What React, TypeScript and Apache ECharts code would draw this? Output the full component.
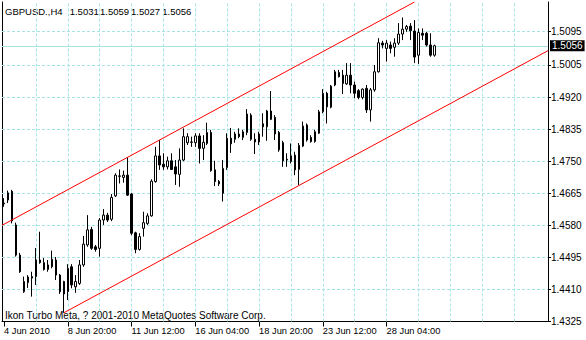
import React, { useEffect, useRef } from "react";
import * as echarts from "echarts";

const FONT = "'Liberation Sans', Arial, sans-serif";

const headerParts = ["GBPUSD.,H4", "1.5031", "1.5059", "1.5027", "1.5056"];
const headerPartLeft = [5, 69.7, 100, 131, 162.3];
const footerText = "Ikon Turbo Meta, ? 2001-2010 MetaQuotes Software Corp.";

// H4 bars: [open, close, low, high]
const candles: number[][] = [
  [1.4639, 1.4637, 1.4629, 1.4652],
  [1.4647, 1.4666, 1.4639, 1.4672],
  [1.467, 1.4592, 1.4585, 1.4674],
  [1.4581, 1.4501, 1.4497, 1.4587],
  [1.4501, 1.4457, 1.4454, 1.4507],
  [1.4404, 1.4431, 1.4401, 1.4444],
  [1.4428, 1.4443, 1.4414, 1.4448],
  [1.4444, 1.444, 1.4391, 1.4457],
  [1.4444, 1.4488, 1.4422, 1.452],
  [1.4488, 1.4481, 1.4478, 1.4563],
  [1.4481, 1.4463, 1.446, 1.4493],
  [1.4463, 1.4475, 1.4457, 1.4488],
  [1.447, 1.449, 1.4466, 1.4513],
  [1.4488, 1.4448, 1.4435, 1.4496],
  [1.4448, 1.4404, 1.4398, 1.4451],
  [1.4431, 1.4398, 1.4348, 1.4433],
  [1.4404, 1.4466, 1.4382, 1.4477],
  [1.447, 1.4422, 1.4413, 1.4477],
  [1.4417, 1.4431, 1.4401, 1.4448],
  [1.4426, 1.4475, 1.4422, 1.4488],
  [1.4475, 1.453, 1.447, 1.4552],
  [1.4528, 1.4568, 1.4523, 1.4607],
  [1.4569, 1.4519, 1.4515, 1.4576],
  [1.4523, 1.4516, 1.451, 1.4528],
  [1.4519, 1.4594, 1.4497, 1.4599],
  [1.4594, 1.4607, 1.4581, 1.4623],
  [1.4607, 1.4594, 1.4589, 1.4613],
  [1.4596, 1.4654, 1.4591, 1.4663],
  [1.4658, 1.4713, 1.4655, 1.4718],
  [1.4711, 1.471, 1.4691, 1.4728],
  [1.4707, 1.4713, 1.4693, 1.4725],
  [1.4713, 1.466, 1.4658, 1.4761],
  [1.4663, 1.4559, 1.4554, 1.4666],
  [1.456, 1.4516, 1.4506, 1.4563],
  [1.4516, 1.455, 1.4513, 1.4559],
  [1.4572, 1.4587, 1.455, 1.4616],
  [1.4585, 1.4605, 1.4581, 1.4612],
  [1.4605, 1.4697, 1.4603, 1.4702],
  [1.4696, 1.4764, 1.4693, 1.4788],
  [1.4764, 1.474, 1.4727, 1.4806],
  [1.4742, 1.4735, 1.4727, 1.4771],
  [1.4735, 1.4751, 1.4728, 1.4762],
  [1.4751, 1.4728, 1.4727, 1.4771],
  [1.4735, 1.4716, 1.4687, 1.4753],
  [1.4715, 1.4753, 1.4682, 1.4784],
  [1.4753, 1.4815, 1.475, 1.4837],
  [1.4799, 1.4815, 1.4793, 1.4824],
  [1.4801, 1.48, 1.4788, 1.4815],
  [1.4799, 1.4817, 1.4788, 1.4824],
  [1.4817, 1.4784, 1.4744, 1.4824],
  [1.4784, 1.48, 1.4753, 1.4819],
  [1.4797, 1.4826, 1.4793, 1.4852],
  [1.4826, 1.4725, 1.4722, 1.4833],
  [1.4727, 1.4696, 1.4684, 1.4751],
  [1.4696, 1.469, 1.4684, 1.47],
  [1.4665, 1.4731, 1.4643, 1.4753],
  [1.4733, 1.4811, 1.4727, 1.4824],
  [1.4811, 1.4796, 1.4772, 1.4838],
  [1.4808, 1.4822, 1.4799, 1.4828],
  [1.4822, 1.4815, 1.4811, 1.4837],
  [1.4813, 1.4828, 1.4806, 1.4833],
  [1.4826, 1.4875, 1.4819, 1.4888],
  [1.4872, 1.4808, 1.4804, 1.4877],
  [1.4808, 1.4801, 1.4769, 1.4824],
  [1.4801, 1.4822, 1.4793, 1.4828],
  [1.4849, 1.4841, 1.4815, 1.4877],
  [1.4841, 1.4883, 1.4804, 1.4886],
  [1.4883, 1.4861, 1.4859, 1.4936],
  [1.4866, 1.4822, 1.4806, 1.4872],
  [1.4826, 1.478, 1.4775, 1.483],
  [1.4799, 1.4751, 1.4735, 1.4804],
  [1.4755, 1.4753, 1.4735, 1.4771],
  [1.4749, 1.4764, 1.4744, 1.4797],
  [1.4766, 1.4727, 1.4713, 1.4775],
  [1.4728, 1.4792, 1.4687, 1.4798],
  [1.479, 1.4843, 1.4788, 1.4855],
  [1.4846, 1.4806, 1.4802, 1.485],
  [1.4813, 1.4802, 1.4799, 1.4819],
  [1.4802, 1.4828, 1.4799, 1.4833],
  [1.4824, 1.4881, 1.4822, 1.4886],
  [1.4881, 1.493, 1.4877, 1.4941],
  [1.493, 1.4894, 1.485, 1.4934],
  [1.4893, 1.4949, 1.489, 1.4952],
  [1.4952, 1.4987, 1.4949, 1.4992],
  [1.4985, 1.4974, 1.4972, 1.4992],
  [1.4978, 1.4956, 1.4928, 1.4992],
  [1.4955, 1.4978, 1.4952, 1.501],
  [1.4978, 1.4952, 1.493, 1.501],
  [1.4952, 1.493, 1.4917, 1.4961],
  [1.4937, 1.4919, 1.4914, 1.4941],
  [1.4919, 1.4941, 1.4914, 1.4943],
  [1.4943, 1.4886, 1.4878, 1.4952],
  [1.4886, 1.4939, 1.4855, 1.4944],
  [1.4939, 1.4987, 1.4934, 1.5005],
  [1.4987, 1.5064, 1.4985, 1.5076],
  [1.5063, 1.5058, 1.5049, 1.5069],
  [1.5049, 1.5063, 1.5014, 1.5071],
  [1.5058, 1.5049, 1.5036, 1.5067],
  [1.5052, 1.5063, 1.5027, 1.5076],
  [1.5063, 1.5087, 1.5058, 1.5116],
  [1.5087, 1.51, 1.5071, 1.5131],
  [1.51, 1.5107, 1.5093, 1.5111],
  [1.5108, 1.5096, 1.5071, 1.5116],
  [1.5095, 1.5026, 1.501, 1.5124],
  [1.5031, 1.5091, 1.5008, 1.5102],
  [1.5089, 1.5084, 1.5071, 1.5102],
  [1.5089, 1.5058, 1.5054, 1.5093],
  [1.5058, 1.5031, 1.5027, 1.5089],
  [1.5031, 1.5056, 1.5027, 1.5059],
];

const xTickLabels = [
  "4 Jun 2010",
  "8 Jun 20:00",
  "11 Jun 12:00",
  "16 Jun 04:00",
  "18 Jun 20:00",
  "23 Jun 12:00",
  "28 Jun 04:00",
];
const barsPerLabel = 16;
const barsPerGridLine = 8;
const slotCount = 137;

const yTickValues = [1.4325, 1.441, 1.4495, 1.458, 1.4665, 1.475, 1.4835, 1.492, 1.5005, 1.5095];
const yMin = 1.4325;
const yMax = 1.5172;
const bidPrice = 1.5056;

// channel lines: [bar position, price]
const upperChannel = [
  [-0.5, 1.458],
  [103.0, 1.5172],
];
const lowerChannel = [
  [15, 1.4348],
  [136.5, 1.5043],
];

const GRID_COLOR = "#a9e4e4";

export default function App() {
  const ref = useRef<HTMLDivElement>(null);

  useEffect(() => {
    if (!ref.current) return;
    const chart = echarts.init(ref.current, undefined, { renderer: "svg" });

    const slots = Array.from({ length: slotCount }, (_, i) => String(i));
    const showLabel = (idx: number) =>
      idx % barsPerLabel === 0 && idx / barsPerLabel < xTickLabels.length;

    const verticalGrid: any[] = [];
    for (let i = barsPerGridLine; i < slotCount - barsPerGridLine; i += barsPerGridLine) {
      verticalGrid.push({ xAxis: i });
    }
    const horizontalGrid = yTickValues.slice(1).map((v) => ({ yAxis: v }));

    const headerGraphics = headerParts.map((t, i) => ({
      type: "text",
      left: headerPartLeft[i],
      top: 6,
      silent: true,
      style: { text: t, font: `9.5px ${FONT}`, fill: "#000" },
    }));

    const option: any = {
      animation: false,
      backgroundColor: "#ffffff",
      textStyle: { fontFamily: FONT },
      grid: { left: 2, top: 2, width: 546, height: 319.5, containLabel: false },
      xAxis: [
        {
          type: "category",
          data: slots,
          boundaryGap: true,
          axisLine: { show: true, onZero: false, lineStyle: { color: "#000", width: 1 } },
          axisTick: {
            show: true,
            alignWithLabel: true,
            length: 5,
            interval: showLabel,
            lineStyle: { color: "#000" },
          },
          axisLabel: {
            show: true,
            interval: showLabel,
            formatter: (_v: string, idx: number) => xTickLabels[idx / barsPerLabel] ?? "",
            align: "left",
            margin: 4.5,
            color: "#000",
            fontSize: 9.3,
            fontFamily: FONT,
          },
          splitLine: { show: false },
        },
        { type: "value", min: -0.5, max: slotCount - 0.5, show: false },
      ],
      yAxis: [
        {
          type: "value",
          position: "right",
          min: yMin,
          max: yMax,
          axisLine: { show: true, onZero: false, lineStyle: { color: "#000" } },
          axisTick: { show: true, length: 3, customValues: yTickValues, lineStyle: { color: "#000" } },
          axisLabel: {
            show: true,
            customValues: yTickValues,
            formatter: (v: number) => v.toFixed(4),
            margin: 3,
            color: "#000",
            fontSize: 10,
            fontFamily: FONT,
          },
          splitLine: { show: false },
        },
        {
          type: "value",
          position: "left",
          min: yMin,
          max: yMax,
          axisLine: { show: true, onZero: false, lineStyle: { color: "#000" } },
          axisTick: { show: false },
          axisLabel: { show: false },
          splitLine: { show: false },
        },
      ],
      graphic: [
        ...headerGraphics,
        {
          type: "text",
          left: 5,
          top: 310,
          silent: true,
          style: { text: footerText, font: `10px ${FONT}`, fill: "#000" },
        },
      ],
      series: [
        {
          type: "candlestick",
          xAxisIndex: 0,
          yAxisIndex: 0,
          data: candles,
          barWidth: 2,
          silent: true,
          z: 2,
          itemStyle: {
            color: "#ffffff",
            color0: "#000000",
            borderColor: "#000000",
            borderColor0: "#000000",
            borderColorDoji: "#000000",
            borderWidth: 1,
          },
          markLine: {
            silent: true,
            z: 1,
            precision: 4,
            symbol: ["none", "none"],
            label: { show: false },
            lineStyle: { color: GRID_COLOR, type: [3, 2], width: 1 },
            emphasis: { disabled: true },
            data: [
              ...verticalGrid,
              ...horizontalGrid,
              {
                yAxis: bidPrice,
                lineStyle: { color: GRID_COLOR, type: "solid", width: 1 },
                label: {
                  show: true,
                  position: "end",
                  distance: 2,
                  formatter: bidPrice.toFixed(4),
                  color: "#ffffff",
                  backgroundColor: "#000000",
                  padding: [1, 2, 0, 2],
                  fontSize: 10,
                  fontFamily: FONT,
                },
              },
            ],
          },
        },
        {
          type: "line",
          xAxisIndex: 1,
          yAxisIndex: 0,
          data: upperChannel,
          symbol: "none",
          silent: true,
          z: 3,
          lineStyle: { color: "#ff0000", width: 1 },
        },
        {
          type: "line",
          xAxisIndex: 1,
          yAxisIndex: 0,
          data: lowerChannel,
          symbol: "none",
          silent: true,
          z: 3,
          lineStyle: { color: "#ff0000", width: 1 },
        },
      ],
    };

    chart.setOption(option);
    return () => chart.dispose();
  }, []);

  return (
    <div
      ref={ref}
      style={{ position: "fixed", left: 0, top: 0, width: 586, height: 340, background: "#fff" }}
    />
  );
}
